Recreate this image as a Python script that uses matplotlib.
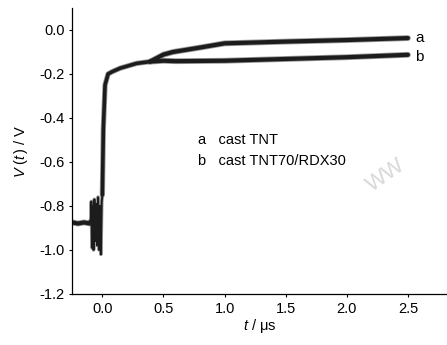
import matplotlib
matplotlib.use("Agg")
import matplotlib.pyplot as plt

plt.rcParams['font.family'] = ['Liberation Sans', 'DejaVu Sans']
plt.rcParams['axes.unicode_minus'] = False
plt.rcParams['mathtext.fontset'] = 'custom'
plt.rcParams['mathtext.rm'] = 'Liberation Sans'
plt.rcParams['mathtext.it'] = 'Liberation Sans:italic'

# pre-trigger baseline and oscillations (common to both traces)
t_pre = [-0.245, -0.2, -0.15, -0.1, -0.095]
v_pre = [-0.875, -0.88, -0.875, -0.88, -0.87]
t_osc = [-0.095, -0.09, -0.085, -0.078, -0.072, -0.065, -0.058, -0.05, -0.042,
         -0.035, -0.027, -0.02, -0.012, -0.005, 0.0]
v_osc = [-0.87, -0.78, -0.99, -0.80, -1.0, -0.77, -0.96, -0.79, -0.98,
         -0.76, -1.0, -0.80, -1.02, -0.78, -0.75]
# rise and early plateau (common)
t_rise = [0.0, 0.008, 0.022, 0.047, 0.08, 0.145, 0.28, 0.39]
v_rise = [-0.75, -0.45, -0.25, -0.2, -0.19, -0.174, -0.152, -0.144]
# tails
t_a = [0.39, 0.5, 0.58, 0.8, 1.0, 1.5, 2.0, 2.5]
v_a = [-0.144, -0.112, -0.10, -0.08, -0.061, -0.053, -0.046, -0.037]
t_b = [0.39, 0.5, 0.6, 1.0, 1.5, 2.0, 2.5]
v_b = [-0.144, -0.14, -0.142, -0.14, -0.132, -0.124, -0.113]

labels = ["a", "b"]
legend_lines = ["a   cast TNT", "b   cast TNT70/RDX30"]
yticks = [-1.2, -1.0, -0.8, -0.6, -0.4, -0.2, 0.0]
xticks = [0.0, 0.5, 1.0, 1.5, 2.0, 2.5]

fig = plt.figure(figsize=(4.47, 3.45), dpi=100)
ax = fig.add_axes([0.162, 0.148, 0.838, 0.829])

col = '#1c1c1c'
halo = '#9a9a9a'
segs = [(t_pre, v_pre, 3.0), (t_osc, v_osc, 1.4), (t_rise, v_rise, 2.6),
        (t_a, v_a, 3.0), (t_b, v_b, 3.0)]
for tt, vv, lw in segs:
    ax.plot(tt, vv, color=halo, lw=lw + 1.2, solid_capstyle='round',
            solid_joinstyle='round')
for tt, vv, lw in segs:
    ax.plot(tt, vv, color=col, lw=lw, solid_capstyle='round',
            solid_joinstyle='round')

ax.text(2.56, v_a[-1], labels[0], fontsize=11, va='center', ha='left')
ax.text(2.56, v_b[-1] - 0.01, labels[1], fontsize=11, va='center', ha='left')

ax.text(0.78, -0.5, legend_lines[0], fontsize=10.5, va='center', ha='left')
ax.text(0.78, -0.595, legend_lines[1], fontsize=10.5, va='center', ha='left')

# watermark
ax.text(2.13, -0.66, "WW", fontsize=16, color='#d8d8d8', rotation=35,
        va='center', ha='left')

ax.set_xlim(-0.245, 2.82)
ax.set_ylim(-1.2, 0.1)
ax.set_xticks(xticks)
ax.set_xticklabels([f"{x:.1f}" for x in xticks])
ax.set_yticks(yticks)
ax.set_yticklabels([f"{y:.1f}" for y in yticks])
ax.tick_params(direction='out', length=2.5, width=0.8, labelsize=10.5, pad=3)
for s in ['top', 'right']:
    ax.spines[s].set_visible(False)
for s in ['left', 'bottom']:
    ax.spines[s].set_linewidth(0.9)

ax.set_xlabel(r"$t$ / μs", fontsize=10.5, labelpad=1)
ax.set_ylabel(r"$V\ (t\,)$ / V", fontsize=10.5, labelpad=7)

fig.savefig("out.png", dpi=100)
